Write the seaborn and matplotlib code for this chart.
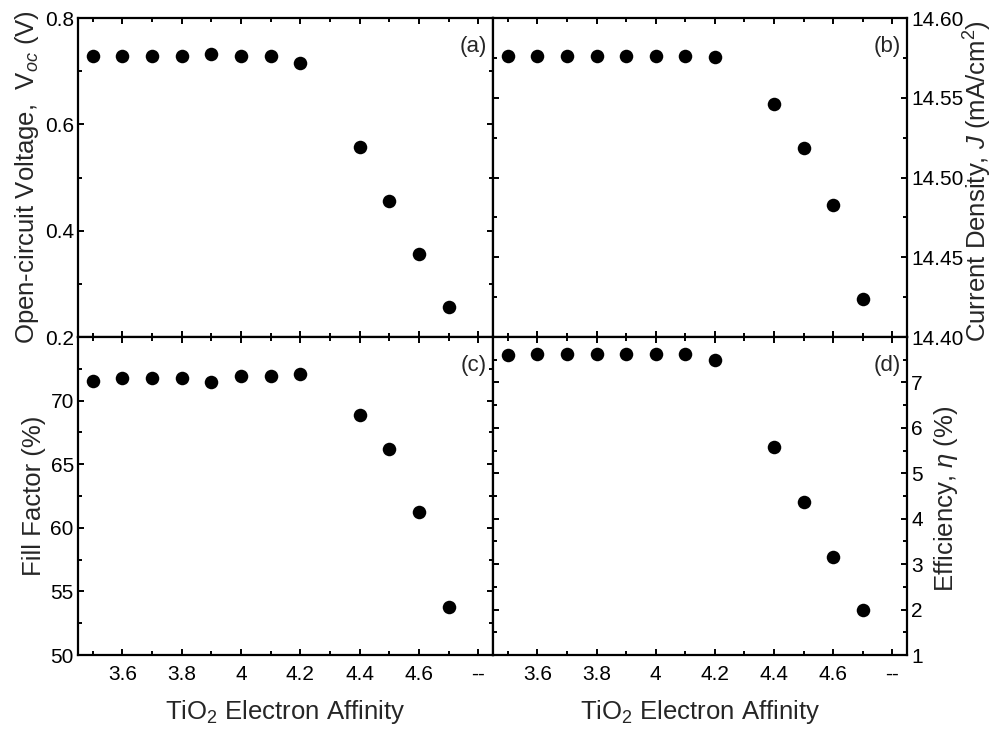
import numpy as np
import pandas as pd
import matplotlib
matplotlib.use("Agg")
import matplotlib.pyplot as plt
from matplotlib.ticker import MultipleLocator
import seaborn as sns

# TiO2 electron affinity (eV) sweep
affinity = [3.5, 3.6, 3.7, 3.8, 3.9, 4.0, 4.1, 4.2, 4.4, 4.5, 4.6, 4.7]

# Device metrics
voc = [0.729, 0.729, 0.729, 0.729, 0.732, 0.728, 0.728, 0.715, 0.558, 0.455, 0.356, 0.257]
jsc = [14.576, 14.576, 14.576, 14.576, 14.576, 14.576, 14.576, 14.5755, 14.546, 14.5185, 14.483, 14.424]
ff = [71.57, 71.76, 71.76, 71.76, 71.50, 71.94, 71.94, 72.12, 68.87, 66.17, 61.27, 53.80]
eta = [7.60, 7.62, 7.62, 7.62, 7.62, 7.62, 7.62, 7.50, 5.57, 4.37, 3.15, 1.99]

xtick_pos = [3.6, 3.8, 4.0, 4.2, 4.4, 4.6, 4.8]
xtick_labels = ["3.6", "3.8", "4", "4.2", "4.4", "4.6", "--"]

df = pd.DataFrame({"affinity": affinity, "voc": voc, "jsc": jsc, "ff": ff, "eta": eta})

sns.set_style("ticks")
plt.rcParams["font.family"] = ["Liberation Sans", "DejaVu Sans"]
plt.rcParams["mathtext.fontset"] = "custom"
plt.rcParams["mathtext.rm"] = "Liberation Sans"
plt.rcParams["mathtext.it"] = "Liberation Sans:italic"

fig = plt.figure(figsize=(9.95, 7.29), dpi=100)
L, M, R = 0.0784, 0.4955, 0.9116
T, H, B = 0.9753, 0.5377, 0.1015
ax_a = fig.add_axes([L, H, M - L, T - H])
ax_b = fig.add_axes([M, H, R - M, T - H])
ax_c = fig.add_axes([L, B, M - L, H - B])
ax_d = fig.add_axes([M, B, R - M, H - B])

# axes, column, y-limits, major step, minor step, tag, label side, label, format, label x (axes coords)
panels = [
    (ax_a, "voc", (0.2, 0.8), 0.2, 0.1, "(a)", "left",
     "Open-circuit Voltage,  V$_{oc}$ (V)", "{:.1f}", None),
    (ax_b, "jsc", (14.40, 14.60), 0.05, 0.025, "(b)", "right",
     "Current Density, $J$ (mA/cm$^2$)", "{:.2f}", 1.132),
    (ax_c, "ff", (50, 75), 5, 2.5, "(c)", "left", "Fill Factor (%)", "{:.0f}", None),
    (ax_d, "eta", (1, 8), 1, 0.5, "(d)", "right", "Efficiency, $\\eta$ (%)", "{:.0f}", 1.060),
]

tick_fs = 15
label_fs = 18.5

for ax, col, ylim, major, minor, tag, side, ylabel, fmt, lx in panels:
    sns.scatterplot(data=df, x="affinity", y=col, ax=ax, color="black",
                    s=95, edgecolor="black", linewidth=0, legend=False)
    ax.set_xlim(3.45, 4.85)
    ax.set_ylim(*ylim)
    ax.xaxis.set_minor_locator(MultipleLocator(0.1))
    ax.set_xticks(xtick_pos)
    ax.yaxis.set_major_locator(MultipleLocator(major))
    ax.yaxis.set_minor_locator(MultipleLocator(minor))
    ax.tick_params(which="both", direction="in", top=True, bottom=True,
                   left=True, right=True, width=1.4, labelsize=tick_fs,
                   colors="black")
    ax.tick_params(which="major", length=4.5)
    ax.tick_params(which="minor", length=2.8)
    for sp in ax.spines.values():
        sp.set_linewidth(1.6)
        sp.set_color("black")

    ticks = np.arange(ylim[0], ylim[1] + major / 2, major)
    is_bottom = ax in (ax_c, ax_d)
    labels = [fmt.format(t) for t in ticks]
    if is_bottom:
        labels[-1] = ""
    ax.set_yticks(ticks)
    ax.set_yticklabels(labels)

    ax.set_ylabel(ylabel, fontsize=label_fs, labelpad=3)
    if side == "right":
        ax.tick_params(axis="y", labelleft=False, labelright=True, pad=3)
        ax.yaxis.set_label_position("right")
        ax.yaxis.set_label_coords(lx, 0.49)
    else:
        ax.tick_params(axis="y", pad=3)

    if is_bottom:
        ax.set_xticklabels(xtick_labels)
        ax.tick_params(axis="x", pad=7)
        ax.set_xlabel("TiO$_2$ Electron Affinity", fontsize=label_fs, labelpad=10)
    else:
        ax.tick_params(axis="x", labelbottom=False)
        ax.set_xlabel("")

    ax.text(0.985, 0.945, tag, transform=ax.transAxes, ha="right", va="top",
            fontsize=16)

fig.savefig("out.png", dpi=100)
